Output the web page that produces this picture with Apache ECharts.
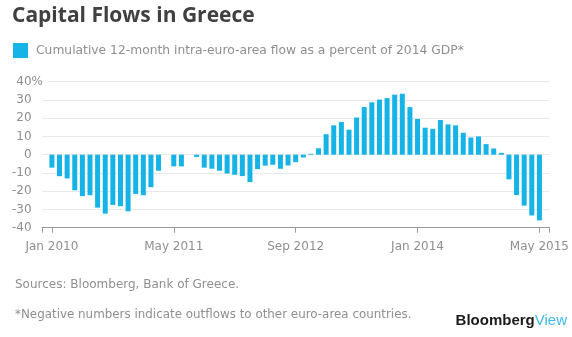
<!DOCTYPE html>
<html>
<head>
<meta charset="utf-8">
<script src="https://cdn.jsdelivr.net/npm/echarts@6/dist/echarts.min.js"></script>
<style>
  html, body { margin: 0; padding: 0; background: #fff; }
  #chart { width: 572px; height: 337px; }
</style>
</head>
<body>
<div id="chart"></div>
<script>
// Monthly series, Jan 2010 through May 2015 (65 months)
const startYear = 2010;
const monthNames = ['Jan','Feb','Mar','Apr','May','Jun','Jul','Aug','Sep','Oct','Nov','Dec'];
const months = [];
for (let i = 0; i < 65; i++) {
  months.push(monthNames[i % 12] + ' ' + (startYear + Math.floor(i / 12)));
}

// Cumulative 12-month intra-euro-area flow, % of 2014 GDP
const flows = [
  -7.1, -11.8, -13.0, -19.5, -22.7, -22.2, -29.0, -32.3, -27.5, -28.2, -31.0, -21.5,
  -22.2, -17.8, -8.8, null, -6.4, -6.4, null, -1.2, -7.1, -7.7, -8.8, -10.3,
  -11.0, -11.7, -15.0, -7.9, -6.0, -5.5, -7.7, -5.9, -4.1, -1.5, 0.5, 3.5,
  11.2, 16.1, 17.9, 13.7, 20.4, 26.1, 28.7, 30.2, 31.0, 32.9, 33.4, 26.1,
  19.6, 14.8, 14.2, 19.0, 16.6, 16.1, 12.0, 9.4, 10.0, 5.8, 3.4, 1.0,
  -13.5, -22.1, -27.9, -33.3, -36.0
];

// Labelled months on the time axis
const xTickLabels = ['Jan 2010', 'May 2011', 'Sep 2012', 'Jan 2014', 'May 2015'];
const xTickIndex = xTickLabels.map(l => months.indexOf(l));

// Value axis ticks
const yTicks = [-40, -30, -20, -10, 0, 10, 20, 30, 40];

const seriesName = 'Cumulative 12-month intra-euro-area flow as a percent of 2014 GDP*';
const barColor = '#16b3e6';
const textGray = '#8f8f8f';
const font = 'DejaVu Sans';

const xPad = 1.3;
const xMin = -xPad;
const xMax = months.length - 1 + xPad;

const chart = echarts.init(document.getElementById('chart'), null, { renderer: 'canvas' });

chart.setOption({
  animation: false,
  backgroundColor: '#fff',
  title: {
    text: 'Capital Flows in Greece',
    left: 7,
    top: 1,
    textStyle: { fontFamily: 'Open Sans', fontWeight: 'bold', fontSize: 21, color: '#404041' }
  },
  legend: {
    left: 8,
    top: 38,
    icon: 'rect',
    itemWidth: 15,
    itemHeight: 15,
    selectedMode: false,
    textStyle: { fontFamily: font, fontSize: 12.3, color: textGray, padding: [0, 0, 0, 3] },
    data: [seriesName]
  },
  grid: { left: 42, right: 22, top: 81.7, bottom: 109.3, containLabel: false },
  xAxis: {
    type: 'value',
    min: xMin,
    max: xMax,
    splitLine: { show: false },
    axisLine: { show: true, onZero: false, lineStyle: { color: '#9a9a9a', width: 1 } },
    axisTick: {
      show: true,
      length: 5,
      lineStyle: { color: '#9a9a9a' },
      customValues: [xMin].concat(xTickIndex, [xMax])
    },
    axisLabel: {
      customValues: xTickIndex,
      margin: 13,
      fontFamily: font,
      fontSize: 12,
      color: textGray,
      formatter: v => months[Math.round(v)]
    }
  },
  yAxis: {
    type: 'value',
    min: yTicks[0],
    max: yTicks[yTicks.length - 1],
    interval: 10,
    axisLine: { show: false },
    axisTick: { show: false },
    splitLine: { lineStyle: { color: '#e9e9e9', width: 1 } },
    axisLabel: {
      margin: -6,
      fontFamily: font,
      fontSize: 12,
      color: textGray,
      formatter: v => v === 40 ? v + '{p|%}' : v + '{h|%}',
      rich: {
        p: { fontFamily: font, fontSize: 12, color: textGray, backgroundColor: '#fff', padding: [0, 5, 0, 0] },
        h: { fontFamily: font, fontSize: 12, color: 'rgba(0,0,0,0)', padding: [0, 5, 0, 0] }
      }
    }
  },
  series: [{
    name: seriesName,
    type: 'bar',
    barWidth: 5,
    itemStyle: { color: barColor },
    data: flows.map((v, i) => [i, v])
  }],
  graphic: [
    {
      type: 'text', left: 15, top: 279,
      style: { text: 'Sources: Bloomberg, Bank of Greece.', fontFamily: font, fontSize: 12, fill: textGray }
    },
    {
      type: 'text', left: 15, top: 309,
      style: { text: '*Negative numbers indicate outflows to other euro-area countries.', fontFamily: font, fontSize: 11.9, fill: textGray }
    },
    {
      type: 'text', right: 5, top: 313,
      style: {
        text: '{b|Bloomberg}{v|View}',
        rich: {
          b: { fontFamily: 'Liberation Sans', fontWeight: 'bold', fontSize: 15, fill: '#1b1b1b' },
          v: { fontFamily: 'Liberation Sans', fontSize: 15, fill: '#3bbbe9' }
        }
      }
    }
  ]
});
</script>
</body>
</html>
